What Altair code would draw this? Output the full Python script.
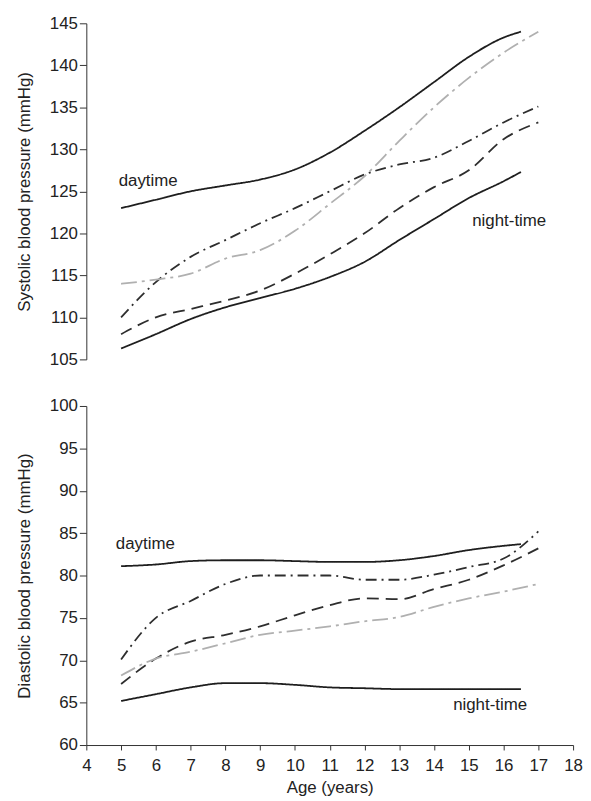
import altair as alt
import pandas as pd

# ---- data ----
ages = [5, 6, 7, 8, 9, 10, 11, 12, 13, 14, 15, 16, 17]
ages_short = [5, 6, 7, 8, 9, 10, 11, 12, 13, 14, 15, 16, 16.5]

sys_day = [123.0, 124.0, 125.0, 125.7, 126.4, 127.6, 129.6, 132.2, 135.0, 138.0, 141.0, 143.3, 144.0]
sys_night = [106.3, 108.0, 109.8, 111.2, 112.3, 113.4, 114.8, 116.6, 119.2, 121.7, 124.2, 126.2, 127.3]
sys_dash = [108.0, 110.0, 111.0, 112.0, 113.2, 115.2, 117.5, 120.0, 123.0, 125.5, 127.5, 131.2, 133.2]
sys_dashdot = [110.0, 114.2, 117.2, 119.2, 121.2, 123.0, 125.0, 127.0, 128.2, 129.0, 131.0, 133.2, 135.1]
sys_gray = [114.0, 114.5, 115.2, 117.0, 118.0, 120.3, 123.5, 126.8, 131.0, 135.0, 138.5, 141.5, 144.0]

dia_day = [81.1, 81.3, 81.7, 81.8, 81.8, 81.7, 81.6, 81.6, 81.8, 82.3, 83.0, 83.5, 83.7]
dia_night = [65.2, 66.0, 66.8, 67.3, 67.3, 67.1, 66.8, 66.7, 66.6, 66.6, 66.6, 66.6, 66.6]
dia_dash = [67.2, 70.2, 72.2, 73.0, 74.0, 75.3, 76.5, 77.3, 77.2, 78.4, 79.5, 81.2, 83.2]
dia_dashdot = [70.1, 75.0, 77.0, 79.0, 80.0, 80.0, 80.0, 79.5, 79.5, 80.1, 81.0, 82.0, 85.2]
dia_gray = [68.2, 70.2, 71.0, 72.0, 73.0, 73.5, 74.0, 74.6, 75.1, 76.3, 77.3, 78.1, 79.0]

series_names = ["day", "night", "dash", "dashdot", "gray"]
series_colors = ["#1e1e1e", "#1e1e1e", "#2e2e2e", "#2e2e2e", "#b0b0b0"]
series_dashes = [[1, 0], [1, 0], [12, 7], [11, 5, 2, 5], [16, 5, 3, 5]]
series_widths = [1.8, 1.8, 1.5, 1.5, 1.4]

labels_sys_text = ["daytime", "night-time"]
labels_sys_x = [4.93, 15.1]
labels_sys_y = [126.2, 121.5]
labels_dia_text = ["daytime", "night-time"]
labels_dia_x = [4.85, 14.55]
labels_dia_y = [83.7, 64.7]


def long_df(vals):
    rows = []
    for name, v in zip(series_names, vals):
        xs = ages_short if name in ("day", "night") else ages
        for a, b in zip(xs, v):
            rows.append({"age": a, "bp": b, "series": name})
    return pd.DataFrame(rows)


sys_df = long_df([sys_day, sys_night, sys_dash, sys_dashdot, sys_gray])
dia_df = long_df([dia_day, dia_night, dia_dash, dia_dashdot, dia_gray])

FONT = "Liberation Sans"
W = 491

color_scale = alt.Scale(domain=series_names, range=series_colors)
dash_scale = alt.Scale(domain=series_names, range=series_dashes)
width_scale = alt.Scale(domain=series_names, range=series_widths)

xscale = alt.Scale(domain=[4, 18], nice=False, zero=False)


def panel(df, ydom, ytitle, ltext, lx, ly, show_x, h):
    if show_x:
        xax = alt.Axis(values=list(range(4, 19)), title="Age (years)", tickSize=5,
                       labelFontSize=17, titleFontSize=17, labelPadding=8,
                       titlePadding=6, grid=False, domainColor="#333",
                       tickColor="#333", labelColor="#222", titleColor="#222",
                       labelFont=FONT, titleFont=FONT, titleFontWeight="normal",
                       labelFlush=False, labelOverlap=False)
    else:
        xax = None
    yax = alt.Axis(values=list(range(ydom[0], ydom[1] + 1, 5)), title=ytitle,
                   tickSize=7, labelFontSize=17, titleFontSize=17, labelPadding=2,
                   titlePadding=16, grid=False, domainColor="#333", tickColor="#333",
                   labelColor="#222", titleColor="#222", labelFont=FONT,
                   titleFont=FONT, titleFontWeight="normal", labelFlush=False,
                   labelOverlap=False)
    yscale = alt.Scale(domain=ydom, nice=False, zero=False)
    lines = alt.Chart(df).mark_line(interpolate="monotone").encode(
        x=alt.X("age:Q", scale=xscale, axis=xax),
        y=alt.Y("bp:Q", scale=yscale, axis=yax),
        color=alt.Color("series:N", scale=color_scale, legend=None),
        strokeDash=alt.StrokeDash("series:N", scale=dash_scale, legend=None),
        strokeWidth=alt.StrokeWidth("series:N", scale=width_scale, legend=None),
        detail="series:N",
    )
    ldf = pd.DataFrame({"t": ltext, "x": lx, "y": ly})
    txt = alt.Chart(ldf).mark_text(align="left", baseline="middle", font=FONT,
                                   fontSize=17, color="#222").encode(
        x=alt.X("x:Q", scale=xscale, axis=xax),
        y=alt.Y("y:Q", scale=yscale, axis=yax),
        text="t:N")
    return alt.layer(lines, txt).properties(width=W, height=h)


top = panel(sys_df, [105, 145], "Systolic blood pressure (mmHg)",
            labels_sys_text, labels_sys_x, labels_sys_y, False, 339)
bot = panel(dia_df, [60, 100], "Diastolic blood pressure (mmHg)",
            labels_dia_text, labels_dia_x, labels_dia_y, True, 342)

chart = alt.vconcat(top, bot, spacing=30).resolve_scale(
    color="independent", strokeDash="independent", strokeWidth="independent"
).properties(
    padding={"left": 7, "top": 3, "right": 0, "bottom": 0},
    background="white",
).configure_view(strokeWidth=0, stroke="transparent")

chart.save("out.html", embed_options={"renderer": "svg", "actions": False})
